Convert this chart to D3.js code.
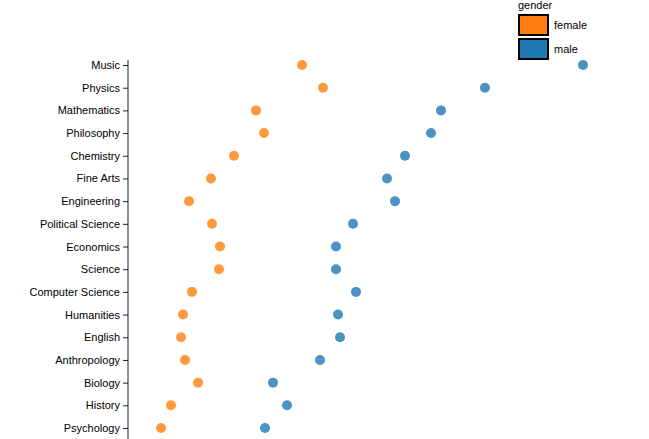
<!DOCTYPE html><html><head><meta charset="utf-8"><script src="https://cdn.jsdelivr.net/npm/d3@7"></script>
<style>body{margin:0;background:#fff}text{font-family:"Liberation Sans",Arial,sans-serif;font-size:11px}</style></head><body><svg id="c" width="649" height="439"></svg>
<script>
const categories=["Music","Physics","Mathematics","Philosophy","Chemistry","Fine Arts","Engineering","Political Science","Economics","Science","Computer Science","Humanities","English","Anthropology","Biology","History","Psychology"];
const female=[34.8,39,25.6,27.2,21.2,16.6,12.2,16.8,18.4,18.2,12.8,11,10.6,11.4,14,8.6,6.6];
const male=[91,71.4,62.6,60.6,55.4,51.8,53.4,45,41.6,41.6,45.6,42,42.4,38.4,29,31.8,27.4];
const genders=["female","male"];
const colors=["#ff7f0e","#1f77b4"];
const svg=d3.select("#c");
const x=d3.scaleLinear().domain([0,100]).range([128,628]);
const y=d3.scalePoint().domain(categories).range([65,428]);
const ax=svg.append("g").attr("transform","translate(128,0)").call(d3.axisLeft(y).tickSize(5).tickSizeOuter(0));
ax.select(".domain").attr("stroke","#123").attr("d","M0,60V439");
ax.selectAll(".tick line").attr("stroke","#123");
ax.selectAll("text").attr("fill","#000").style("font-size","11px");
[female,male].forEach((s,i)=>{
 svg.append("g").selectAll("circle").data(s).join("circle").attr("cx",d=>x(d)).attr("cy",(d,j)=>y(categories[j])).attr("r",5).attr("fill",colors[i]).attr("opacity",0.8);
});
const lg=svg.append("g");
lg.append("text").attr("x",518).attr("y",9).text("gender");
genders.forEach((g,i)=>{
 lg.append("rect").attr("x",519).attr("y",15+i*24).attr("width",29).attr("height",20).attr("fill",colors[i]).attr("stroke","#000").attr("stroke-width",2);
 lg.append("text").attr("x",554).attr("y",29+i*24).text(g);
});
</script></body></html>
